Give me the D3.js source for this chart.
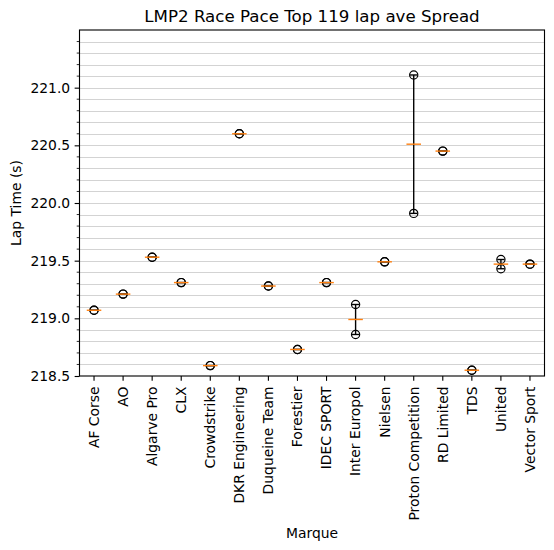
<!DOCTYPE html>
<html><head><meta charset="utf-8">
<script src="https://cdn.jsdelivr.net/npm/d3@7"></script>
<style>body{margin:0;background:#fff}svg{display:block;font-family:"DejaVu Sans",sans-serif}</style>
</head><body><svg id="c" width="554" height="550"></svg>
<script>
const teams = ["AF Corse","AO","Algarve Pro","CLX","Crowdstrike","DKR Engineering","Duqueine Team","Forestier","IDEC SPORT","Inter Europol","Nielsen","Proton Competition","RD Limited","TDS","United","Vector Sport"];
const lapA = [219.07,219.21,219.53,219.31,218.59,220.60,219.28,218.73,219.31,219.12,219.49,221.11,220.45,218.55,219.51,219.47];
const lapB = [219.07,219.21,219.53,219.31,218.59,220.60,219.28,218.73,219.31,218.86,219.49,219.91,220.45,218.55,219.43,219.47];
const yMajor = [218.5,219.0,219.5,220.0,220.5,221.0];
const title = "LMP2 Race Pace Top 119 lap ave Spread";
const xTitle = "Marque", yTitle = "Lap Time (s)";

const L=79.5, R=544.5, T=30, B=376;
const FS = "13.89px";
const svg = d3.select("#c");
const x = d3.scaleBand().domain(teams).range([L,R]).paddingInner(0).paddingOuter(0);
const y = d3.scaleLinear().domain([218.5,221.5]).range([B,T]);

// grid every 0.1
const gridVals = d3.range(1,30).map(i=>+(218.5+i*0.1).toFixed(1));
svg.append("g").selectAll("line").data(gridVals).join("line")
  .attr("x1",L).attr("x2",R).attr("y1",d=>Math.round(y(d))+0.5).attr("y2",d=>Math.round(y(d))+0.5)
  .attr("stroke","#d3d3d3").attr("stroke-width",1);

const data = teams.map((t,i)=>{const v=[lapA[i],lapB[i]].sort((a,b)=>a-b);return {t,v,min:v[0],max:v[1],med:d3.median(v)};});
const cx = d=>x(d.t)+x.bandwidth()/2;
const bw = x.bandwidth()*0.5;

const g = svg.append("g");
data.forEach(d=>{
  g.selectAll(null).data(d.v).join("circle")
   .attr("cx",cx(d)).attr("cy",v=>y(v)).attr("r",4.1)
   .attr("fill","none").attr("stroke","#000").attr("stroke-width",1.2);
});
g.selectAll(".wh").data(data).join("line").attr("class","wh")
  .attr("x1",cx).attr("x2",cx).attr("y1",d=>y(d.min)).attr("y2",d=>y(d.max))
  .attr("stroke","#000").attr("stroke-width",1.39);
["min","max"].forEach(k=>{
  g.selectAll(".cap"+k).data(data).join("line")
   .attr("x1",d=>cx(d)-bw/4).attr("x2",d=>cx(d)+bw/4).attr("y1",d=>y(d[k])).attr("y2",d=>y(d[k]))
   .attr("stroke","#000").attr("stroke-width",1.39);
});
g.selectAll(".med").data(data).join("line")
  .attr("x1",d=>cx(d)-bw/2).attr("x2",d=>cx(d)+bw/2).attr("y1",d=>y(d.med)).attr("y2",d=>y(d.med))
  .attr("stroke","#ff7f0e").attr("stroke-width",1.39);

const yAx = svg.append("g").attr("transform",`translate(${L},0)`)
  .call(d3.axisLeft(y).tickValues(yMajor).tickFormat(d3.format(".1f")).tickSize(4.86).tickPadding(4.5));
yAx.select(".domain").remove();
yAx.selectAll("text").attr("font-size",FS).attr("fill","#000").attr("font-family","DejaVu Sans");
yAx.selectAll("line").attr("stroke-width",1.11);
const minor = d3.range(0,31).map(i=>+(218.5+i*0.1).toFixed(1)).filter(v=>Math.abs(v*2-Math.round(v*2))>1e-6);
svg.append("g").selectAll("line").data(minor).join("line")
  .attr("x1",L-2.78).attr("x2",L).attr("y1",d=>y(d)).attr("y2",d=>y(d))
  .attr("stroke","#000").attr("stroke-width",0.83);

const xAx = svg.append("g").attr("transform",`translate(0,${B})`)
  .call(d3.axisBottom(x).tickSize(4.86).tickPadding(0));
xAx.select(".domain").remove();
xAx.selectAll("line").attr("stroke-width",1.11);
xAx.selectAll("text").attr("font-size",FS).attr("fill","#000").attr("font-family","DejaVu Sans")
  .attr("transform","translate(0,10.5) rotate(-90)").attr("text-anchor","end").attr("dy","0.35em").attr("y",0).attr("x",0);

svg.append("rect").attr("x",L).attr("y",T).attr("width",R-L).attr("height",B-T)
  .attr("fill","none").attr("stroke","#000").attr("stroke-width",1.11);

svg.append("text").attr("x",(L+R)/2).attr("y",22).attr("text-anchor","middle")
  .attr("font-size","16.67px").text(title);
svg.append("text").attr("x",(L+R)/2).attr("y",538).attr("text-anchor","middle")
  .attr("font-size",FS).text(xTitle);
svg.append("text").attr("transform",`translate(21,${(T+B)/2}) rotate(-90)`).attr("text-anchor","middle")
  .attr("font-size",FS).text(yTitle);
</script></body></html>
